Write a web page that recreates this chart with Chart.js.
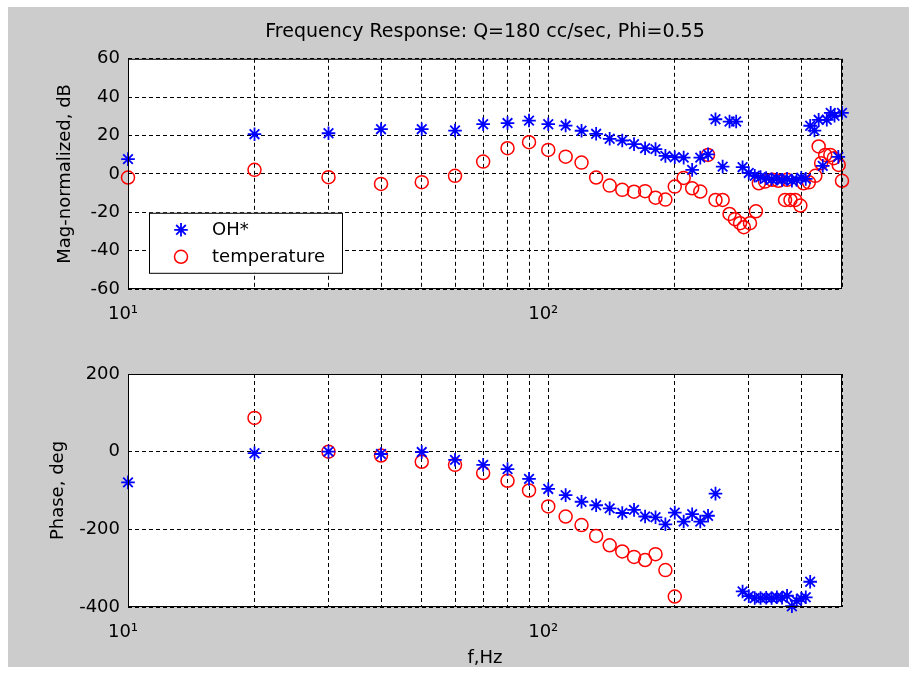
<!DOCTYPE html>
<html>
<head>
<meta charset="utf-8">
<script src="https://cdn.jsdelivr.net/npm/chart.js"></script>
<style>
  html, body { margin: 0; padding: 0; background: #fff; }
  #fig { position: absolute; left: 8px; top: 7px; width: 901px; height: 660px; background: #cccccc; }
  #magWrap { position: absolute; left: 0; top: 0; width: 901px; height: 335px; }
  #phaseWrap { position: absolute; left: 0; top: 335px; width: 901px; height: 325px; }
</style>
</head>
<body>
<div id="fig">
  <div id="magWrap"><canvas id="magChart" width="901" height="335"></canvas></div>
  <div id="phaseWrap"><canvas id="phaseChart" width="901" height="325"></canvas></div>
</div>
<script>
// magnitude, OH* signal
let magOHFreq = [10, 20, 30, 40, 50, 60, 70, 80, 90, 100,
  110, 120, 130, 140, 150, 160, 170, 180, 190, 200,
  210, 220, 230, 240, 250, 260, 270, 280, 290, 300,
  310, 320, 330, 340, 350, 360, 370, 380, 390, 400,
  410, 420, 430, 440, 450, 460, 470, 480, 490, 500];
let magOH = [7.7, 20.7, 21.2, 23.3, 23.3, 22.6, 25.9, 26.5, 27.8, 25.9,
  25.2, 22.5, 20.9, 18.3, 17.4, 15.5, 13.4, 12.9, 9.4, 8.7,
  8.5, 2.1, 8.5, 10.2, 28.5, 3.8, 27.3, 27.3, 3.5, 0.5,
  -1.0, -1.7, -2.2, -2.8, -2.5, -3.1, -2.6, -3.5, -3.1, -2.0,
  -2.6, 25.1, 22.6, 28.2, 4.2, 28.2, 31.8, 30.3, 8.9, 31.8];

// magnitude, temperature
let magTempFreq = [10, 20, 30, 40, 50, 60, 70, 80, 90, 100,
  110, 120, 130, 140, 150, 160, 170, 180, 190, 200,
  210, 220, 230, 240, 250, 260, 270, 278, 286, 292,
  302, 312, 317, 328, 341, 353, 366, 370, 377, 387,
  398, 405, 417, 432, 440, 446, 456, 469, 478, 491, 500];
let magTemp = [-1.9, 2.1, -1.7, -5.2, -4.3, -1.0, 6.4, 13.4, 16.5, 12.5,
  9.0, 5.9, -1.9, -6.1, -8.3, -9.3, -9.0, -12.4, -13.4, -6.6,
  -2.1, -7.5, -9.2, 9.9, -13.6, -13.6, -20.9, -23.6, -25.7, -27.8,
  -25.7, -19.5, -4.9, -4.0, -3.1, -3.6, -13.6, -3.1, -13.6, -13.6,
  -16.5, -4.9, -4.4, -1.0, 14.3, 5.6, 9.9, 9.9, 8.2, 4.7, -3.6];

// phase, OH*
let phaseOHFreq = [10, 20, 30, 40, 50, 60, 70, 80, 90, 100,
  110, 120, 130, 140, 150, 160, 170, 180, 190, 200,
  210, 220, 230, 240, 250,
  290, 300, 310, 320, 330, 340, 350, 360, 370, 380, 390, 400, 410, 420];
let phaseOH = [-79, -4, 0, -6, -1, -21, -34, -45, -70, -96,
  -112, -129, -138, -146, -158, -150, -167, -169, -187, -157,
  -180, -161, -180, -165, -108,
  -360, -372, -377, -377, -376, -377, -375, -376, -371, -398, -384, -378, -375, -335];

// phase, temperature
let phaseTempFreq = [20, 30, 40, 50, 60, 70, 80, 90, 100,
  110, 120, 130, 140, 150, 160, 170, 180, 190, 200];
let phaseTemp = [87, 0, -10, -26, -34, -55, -75, -100, -141,
  -167, -189, -217, -241, -257, -271, -279, -264, -305, -373];

let seriesNames = ['OH*', 'temperature'];
let freqTicks = [10, 20, 30, 40, 50, 60, 70, 80, 90, 100, 200, 300, 400, 500];
let freqLabels = {10: '10\u00B9', 100: '10\u00B2'};

const FONT = "'DejaVu Sans', 'Liberation Sans', Arial, sans-serif";
Chart.defaults.font.family = FONT;
Chart.defaults.font.size = 18;
Chart.defaults.color = '#000';

function toPoints(xs, ys) {
  return xs.map((x, i) => ({x: x, y: ys[i]}));
}

function ohDataset(pts) {
  return {
    label: seriesNames[0], data: pts, showLine: false, clip: false,
    pointStyle: 'star', pointRadius: 6.8, pointHoverRadius: 6.8,
    borderColor: '#0000ff', backgroundColor: '#0000ff', pointBorderWidth: 1.8
  };
}
function tempDataset(pts) {
  return {
    label: seriesNames[1], data: pts, showLine: false, clip: false,
    pointStyle: 'circle', pointRadius: 6.5, pointHoverRadius: 6.5,
    borderColor: '#ff0000', backgroundColor: 'rgba(0,0,0,0)', pointBorderWidth: 1.5
  };
}

// white plot area + solid box like matlab axes
const axesBox = {
  id: 'axesBox',
  beforeDraw(chart) {
    const a = chart.chartArea, ctx = chart.ctx;
    ctx.save();
    ctx.fillStyle = '#fff';
    ctx.fillRect(a.left, a.top, a.right - a.left, a.bottom - a.top);
    ctx.restore();
  },
  afterDatasetsDraw(chart) {
    const a = chart.chartArea, ctx = chart.ctx;
    ctx.save();
    ctx.strokeStyle = '#000';
    ctx.lineWidth = 1;
    ctx.strokeRect(a.left + 0.5, a.top + 0.5, a.right - a.left - 1, a.bottom - a.top - 1);
    ctx.restore();
  }
};

function drawMarker(ctx, style, x, y, r) {
  ctx.beginPath();
  if (style === 'star') {
    ctx.moveTo(x - r, y); ctx.lineTo(x + r, y);
    ctx.moveTo(x, y - r); ctx.lineTo(x, y + r);
    let d = r * Math.SQRT1_2;
    ctx.moveTo(x - d, y - d); ctx.lineTo(x + d, y + d);
    ctx.moveTo(x - d, y + d); ctx.lineTo(x + d, y - d);
  } else {
    ctx.arc(x, y, r, 0, Math.PI * 2);
  }
  ctx.stroke();
}

// legend box in the lower left of the top axes
const boxLegend = {
  id: 'boxLegend',
  afterDraw(chart) {
    const a = chart.chartArea, ctx = chart.ctx;
    const left = a.left + 21, top = a.top + 154, w = 193, h = 60;
    ctx.save();
    ctx.fillStyle = '#fff';
    ctx.fillRect(left, top, w, h);
    ctx.strokeStyle = '#000';
    ctx.lineWidth = 1;
    ctx.strokeRect(left + 0.5, top + 0.5, w, h);
    chart.data.datasets.forEach((ds, i) => {
      const cy = top + 17 + i * 27;
      ctx.strokeStyle = ds.borderColor;
      ctx.lineWidth = ds.pointBorderWidth;
      drawMarker(ctx, ds.pointStyle, left + 32, cy, ds.pointRadius);
      ctx.fillStyle = '#000';
      ctx.font = '18px ' + FONT;
      ctx.textBaseline = 'middle';
      ctx.textAlign = 'left';
      ctx.fillText(ds.label, left + 63, cy + 1);
    });
    ctx.restore();
  }
};

function freqAxis(height, titleText) {
  return {
    type: 'logarithmic',
    min: 10, max: 500,
    afterBuildTicks: s => { s.ticks = freqTicks.map(v => ({value: v})); },
    afterFit: s => { s.height = height; },
    grid: { color: '#000', lineWidth: 1, drawTicks: false },
    border: { display: false, dash: [4, 3] },
    ticks: {
      autoSkip: false, maxRotation: 0, padding: 15, labelOffset: -5,
      callback: v => freqLabels[v] || ''
    },
    title: titleText ? { display: true, text: titleText, padding: {top: 0, bottom: 0}, font: {size: 18, lineHeight: 1} } : { display: false }
  };
}

function valueAxis(min, max, step, titleText, titlePad) {
  return {
    min: min, max: max,
    afterFit: s => { s.width = 120; },
    grid: { color: '#000', lineWidth: 1, drawTicks: false },
    border: { display: false, dash: [4, 3] },
    ticks: { stepSize: step, padding: 8 },
    title: { display: true, text: titleText, padding: {top: titlePad, bottom: 0} }
  };
}

let magChart = new Chart(document.getElementById('magChart').getContext('2d'), {
  type: 'scatter',
  data: {
    datasets: [
      ohDataset(toPoints(magOHFreq, magOH)),
      tempDataset(toPoints(magTempFreq, magTemp))
    ]
  },
  options: {
    responsive: false,
    animation: false,
    layout: { padding: { left: 0, right: 67, top: 0, bottom: 0 } },
    plugins: {
      legend: { display: false },
      tooltip: { enabled: false },
      title: {
        display: true,
        fullSize: false,
        text: 'Frequency Response: Q=180 cc/sec, Phi=0.55',
        color: '#000',
        font: { size: 19, weight: 'normal', lineHeight: 1.2 },
        padding: { top: 14, bottom: 15 }
      }
    },
    scales: {
      x: freqAxis(53),
      y: valueAxis(-60, 60, 20, 'Mag-normalized, dB', 47)
    }
  },
  plugins: [axesBox, boxLegend]
});

let phaseChart = new Chart(document.getElementById('phaseChart').getContext('2d'), {
  type: 'scatter',
  data: {
    datasets: [
      ohDataset(toPoints(phaseOHFreq, phaseOH)),
      tempDataset(toPoints(phaseTempFreq, phaseTemp))
    ]
  },
  options: {
    responsive: false,
    animation: false,
    layout: { padding: { left: 0, right: 67, top: 32, bottom: 0 } },
    plugins: {
      legend: { display: false },
      tooltip: { enabled: false }
    },
    scales: {
      x: freqAxis(60, 'f,Hz'),
      y: valueAxis(-400, 200, 200, 'Phase, deg', 40)
    }
  },
  plugins: [axesBox]
});
</script>
</body>
</html>
